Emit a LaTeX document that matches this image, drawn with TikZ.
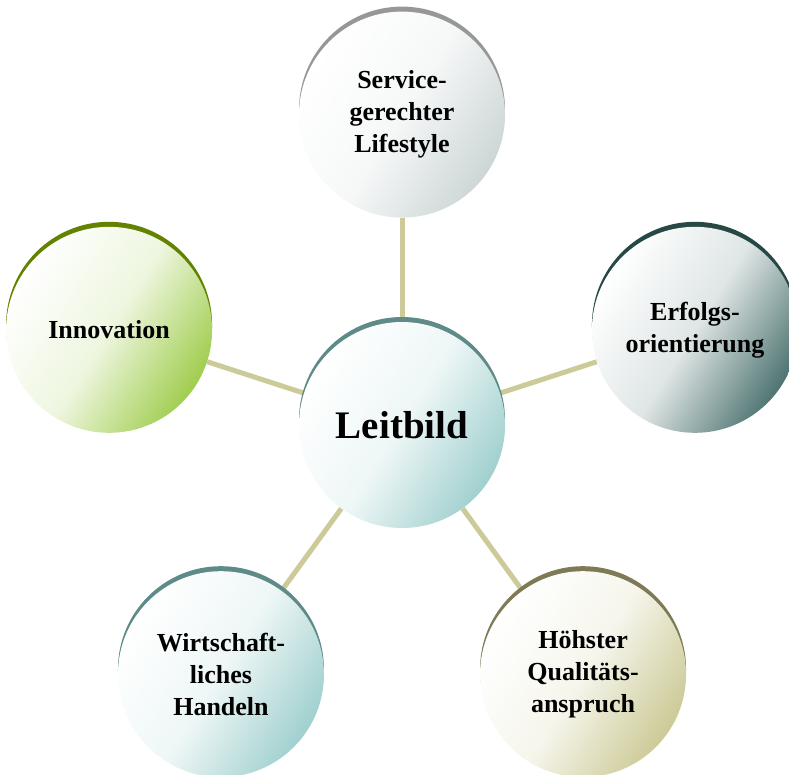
\documentclass[tikz,border=0pt]{standalone}
\usepackage{fontspec}
\setmainfont{Liberation Serif}
\usetikzlibrary{positioning,backgrounds}

\definecolor{leitlight}{RGB}{160,208,206}
\definecolor{leitdark}{RGB}{94,138,136}
\definecolor{servlight}{RGB}{205,214,214}
\definecolor{servdark}{RGB}{150,152,152}
\definecolor{innolight}{RGB}{160,205,78}
\definecolor{innodark}{RGB}{98,130,0}
\definecolor{erfolight}{RGB}{78,116,113}
\definecolor{erfodark}{RGB}{40,72,70}
\definecolor{hoehlight}{RGB}{204,202,150}
\definecolor{hoehdark}{RGB}{125,122,85}
\definecolor{linkkhaki}{RGB}{204,202,153}

\begin{document}
\begin{tikzpicture}[x=1pt, y=1pt,
			ballnode/.style={circle, minimum size=206pt, inner sep=0pt, align=center,
				font=\bfseries\fontsize{26}{32}\selectfont,
				preaction={fill=#1dark, transform canvas={yshift=5pt}},
				top color=white, bottom color=#1light, middle color=#1light!18!white,
				shading angle=58},
			link/.style={line width=5pt, draw=linkkhaki},
			]
			\useasboundingbox (0,0) rectangle (789,-774);
			%Nodes
			\node[ballnode=leit, font=\bfseries\fontsize{39}{47}\selectfont] (leit) at (402,-425) {Leitbild};
			\node[ballnode=serv] (serv) [above=104pt of leit] {Service-\\gerechter\\Lifestyle};
			\node[ballnode=inno] (inno) at ([shift={(162:308)}]leit) {Innovation};
			\node[ballnode=erfo] (erfo) at ([shift={(18:308)}]leit) {Erfolgs-\\orientierung};
			\node[ballnode=leit] (wirt) at ([shift={(234:308)}]leit) {Wirtschaft-\\liches\\Handeln};
			\node[ballnode=hoeh] (hoeh) at ([shift={(306:308)}]leit) {Höhster\\Qualitäts-\\anspruch};

			%Links
			\begin{scope}[on background layer]
				\draw[link] (leit) -- (serv);
				\draw[link] (leit) -- (inno);
				\draw[link] (leit) -- (erfo);
				\draw[link] (leit) -- (wirt);
				\draw[link] (leit) -- (hoeh);
			\end{scope}
		\end{tikzpicture}
\end{document}
